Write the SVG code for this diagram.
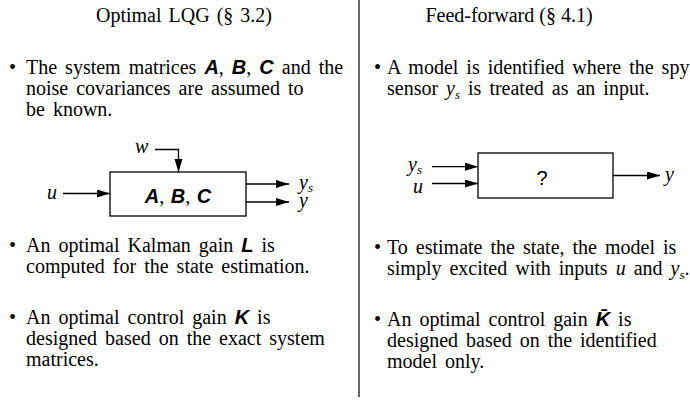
<svg xmlns="http://www.w3.org/2000/svg" width="690" height="401" viewBox="0 0 690 401">
<style>
  text { font-family: "Liberation Serif", "Times New Roman", serif; fill: #000; }
  .title { font-size: 20px; text-anchor: middle; word-spacing: 2px; }
  .body { font-size: 20px; word-spacing: 3px; }
  .bul { font-size: 20px; }
  .m { font-family: "Liberation Sans", Arial, sans-serif; font-weight: bold; font-style: italic; }
  .v { font-style: italic; }
  .sub { font-size: 13px; font-style: italic; }
  .dg { font-size: 20px; }
  .box { fill: #fff; stroke: #000; stroke-width: 1.3; }
  .ln { fill: none; stroke: #000; stroke-width: 1.3; marker-end: url(#ah); }
  .div { stroke: #000; stroke-width: 1.2; }
</style>
<defs>
  <marker id="ah" markerUnits="userSpaceOnUse" markerWidth="14" markerHeight="9" refX="13" refY="4" orient="auto">
    <path d="M0,0 L13,4 L0,8 z" fill="#000"/>
  </marker>
</defs>
<rect width="690" height="401" fill="#fff"/>
<line class="div" x1="359" y1="0" x2="359" y2="397"/>

<g id="left-title"><text class="title" x="184" y="22">Optimal LQG (§ 3.2)</text></g>

<g id="left-bullet1">
  <text class="bul" x="9" y="74">•</text>
  <text class="body" x="26" y="74">The system matrices <tspan class="m">A</tspan>, <tspan class="m">B</tspan>, <tspan class="m">C</tspan> and the</text>
  <text class="body" x="26" y="95">noise covariances are assumed to</text>
  <text class="body" x="26" y="116">be known.</text>
</g>

<g id="left-diagram-box">
  <rect class="box" x="110" y="172" width="136" height="44"/>
  <text class="dg m" x="178" y="203" text-anchor="middle" style="word-spacing:1px">A<tspan style="font-family:'Liberation Serif',serif;font-style:normal;font-weight:normal">,</tspan> B<tspan style="font-family:'Liberation Serif',serif;font-style:normal;font-weight:normal">,</tspan> C</text>
</g>
<g id="left-diagram-labels">
  <text class="dg v" x="47" y="199">u</text>
  <text class="dg v" x="135" y="153">w</text>
  <text class="dg v" x="299" y="188.5">y<tspan class="sub" dy="3">s</tspan></text>
  <text class="dg v" x="299" y="207">y</text>
</g>

<g id="left-bullet2">
  <text class="bul" x="9" y="252">•</text>
  <text class="body" x="26" y="252">An optimal Kalman gain <tspan class="m">L</tspan> is</text>
  <text class="body" x="26" y="273">computed for the state estimation.</text>
</g>
<g id="left-bullet3">
  <text class="bul" x="9" y="324">•</text>
  <text class="body" x="26" y="324">An optimal control gain <tspan class="m">K</tspan> is</text>
  <text class="body" x="26" y="345">designed based on the exact system</text>
  <text class="body" x="26" y="366">matrices.</text>
</g>

<g id="right-title"><text class="title" x="509" y="22" style="word-spacing:0">Feed-forward (§ 4.1)</text></g>

<g id="right-bullet1">
  <text class="bul" x="374" y="74">•</text>
  <text class="body" x="387" y="74">A model is identified where the spy</text>
  <text class="body" x="387" y="95">sensor <tspan class="v">y</tspan><tspan class="sub" dy="4">s</tspan><tspan dy="-4"> is treated as an input.</tspan></text>
</g>

<g id="right-diagram-box">
  <rect class="box" x="478" y="153" width="135" height="45"/>
  <text class="dg" x="542" y="185" text-anchor="middle" style="font-family:'Liberation Sans',Arial,sans-serif">?</text>
</g>
<g id="right-diagram-labels">
  <text class="dg v" x="408" y="170.5">y<tspan class="sub" dy="3">s</tspan></text>
  <text class="dg v" x="413" y="192.5">u</text>
  <text class="dg v" x="665" y="181">y</text>
</g>

<g id="right-bullet2">
  <text class="bul" x="374" y="254">•</text>
  <text class="body" x="387" y="254">To estimate the state, the model is</text>
  <text class="body" x="387" y="275">simply excited with inputs <tspan class="v">u</tspan> and <tspan class="v">y</tspan><tspan class="sub" dy="4">s</tspan><tspan dy="-4">.</tspan></text>
</g>
<g id="right-bullet3">
  <text class="bul" x="374" y="326">•</text>
  <text class="body" x="387" y="326">An optimal control gain <tspan class="m">K̄</tspan> is</text>
  <text class="body" x="387" y="347">designed based on the identified</text>
  <text class="body" x="387" y="368">model only.</text>
</g>

<g id="connectors">
  <line class="ln" x1="63" y1="193.5" x2="110" y2="193.5"/>
  <polyline class="ln" points="155,149.5 178.5,149.5 178.5,172"/>
  <line class="ln" x1="246" y1="184" x2="289" y2="184"/>
  <line class="ln" x1="246" y1="202" x2="289" y2="202"/>
  <line class="ln" x1="432" y1="166.7" x2="478" y2="166.7"/>
  <line class="ln" x1="432" y1="183.5" x2="478" y2="183.5"/>
  <line class="ln" x1="613" y1="175.5" x2="660" y2="175.5"/>
</g>
</svg>
